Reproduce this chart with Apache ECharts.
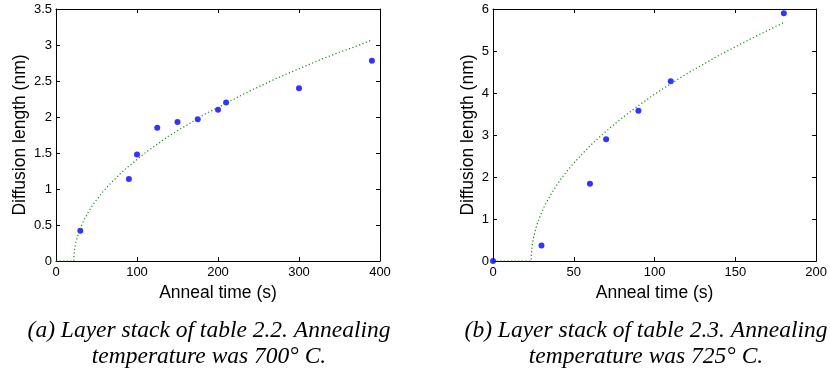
<!DOCTYPE html>
<html>
<head>
<meta charset="utf-8">
<script src="https://cdn.jsdelivr.net/npm/echarts@6/dist/echarts.min.js"></script>
<style>
html,body{margin:0;padding:0;background:#fff;}
#chart{width:830px;height:376px;}
</style>
</head>
<body>
<div id="chart"></div>
<script>
// ---- Panel (a): 700 C ----
const timeA = [30, 90, 100, 125, 150, 175, 200, 210, 300, 390];
const lengthA = [0.42, 1.14, 1.48, 1.85, 1.93, 1.97, 2.10, 2.20, 2.40, 2.78];
const fitTimeA = [0, 22, 22.3, 22.7, 23, 24, 25, 26, 28, 30, 33, 36, 40, 45, 50, 57, 65, 72, 80, 90, 100, 112, 125, 137, 150, 162, 175, 187, 200, 225, 250, 275, 300, 325, 350, 370, 390];
const fitLengthA = [0, 0, 0.09, 0.13, 0.16, 0.23, 0.28, 0.32, 0.39, 0.45, 0.53, 0.60, 0.68, 0.77, 0.85, 0.95, 1.05, 1.13, 1.22, 1.32, 1.41, 1.52, 1.62, 1.72, 1.81, 1.89, 1.98, 2.06, 2.13, 2.28, 2.42, 2.55, 2.67, 2.79, 2.90, 2.98, 3.07];
const xTicksA = [0, 100, 200, 300, 400];
const yTicksA = [0, 0.5, 1, 1.5, 2, 2.5, 3, 3.5];

// ---- Panel (b): 725 C ----
const timeB = [0, 30, 60, 70, 90, 110, 180];
const lengthB = [0, 0.37, 1.84, 2.90, 3.58, 4.28, 5.90];
const fitTimeB = [0, 23.6, 23.7, 24, 24.5, 25, 26, 27, 28, 30, 32, 35, 38, 42, 46, 50, 55, 60, 65, 70, 80, 90, 100, 110, 120, 130, 140, 150, 160, 170, 180];
const fitLengthB = [0, 0, 0.14, 0.29, 0.43, 0.54, 0.70, 0.84, 0.95, 1.15, 1.32, 1.53, 1.72, 1.95, 2.15, 2.33, 2.54, 2.74, 2.92, 3.09, 3.41, 3.70, 3.97, 4.22, 4.46, 4.68, 4.90, 5.10, 5.30, 5.49, 5.68];
const xTicksB = [0, 50, 100, 150, 200];
const yTicksB = [0, 1, 2, 3, 4, 5, 6];

const xTitle = 'Anneal time (s)';
const yTitle = 'Diffusion length (nm)';
const captionA = '(a) Layer stack of table 2.2. Annealing\ntemperature was 700° C.';
const captionB = '(b) Layer stack of table 2.3. Annealing\ntemperature was 725° C.';

const SANS = '"Liberation Sans", Arial, Helvetica, sans-serif';
const SERIF = '"Liberation Serif", "Times New Roman", serif';

function zip(a, b) { return a.map((v, i) => [v, b[i]]); }

function mkAxes(gridIndex, ticks, pos, isX, nameGap) {
  const min = ticks[0], max = ticks[ticks.length - 1];
  const interval = ticks[1] - ticks[0];
  const main = pos === 'bottom' || pos === 'left';
  return {
    type: 'value', gridIndex, position: pos, min, max, interval,
    name: main ? (isX ? xTitle : yTitle) : '',
    nameLocation: 'middle', nameGap,
    nameTextStyle: { fontFamily: SANS, fontSize: 17.5, color: '#000' },
    axisLine: { show: true, onZero: false, lineStyle: { color: '#000', width: 1 } },
    axisTick: { show: true, inside: true, length: 4, lineStyle: { color: '#000', width: 1 } },
    axisLabel: { show: main, fontFamily: SANS, fontSize: 13, color: '#000', margin: isX ? 5 : 4 },
    splitLine: { show: false }
  };
}

const fitStyle = { color: '#1a8a1a', width: 1.2, type: [1.2, 2.4] };

const option = {
  animation: false,
  backgroundColor: '#fff',
  grid: [
    { left: 56, top: 9, width: 324, height: 252 },
    { left: 493, top: 9, width: 324, height: 252 }
  ],
  xAxis: [
    mkAxes(0, xTicksA, 'bottom', true, 18),
    mkAxes(0, xTicksA, 'top', true, 0),
    mkAxes(1, xTicksB, 'bottom', true, 18),
    mkAxes(1, xTicksB, 'top', true, 0)
  ],
  yAxis: [
    mkAxes(0, yTicksA, 'left', false, 27),
    mkAxes(0, yTicksA, 'right', false, 0),
    mkAxes(1, yTicksB, 'left', false, 16),
    mkAxes(1, yTicksB, 'right', false, 0)
  ],
  series: [
    {
      type: 'line', xAxisIndex: 0, yAxisIndex: 0,
      data: zip(fitTimeA, fitLengthA), showSymbol: false, smooth: false,
      lineStyle: fitStyle, silent: true
    },
    {
      type: 'scatter', xAxisIndex: 0, yAxisIndex: 0,
      data: zip(timeA, lengthA), symbol: 'circle', symbolSize: 6,
      itemStyle: { color: '#0000ff' }
    },
    {
      type: 'line', xAxisIndex: 2, yAxisIndex: 2,
      data: zip(fitTimeB, fitLengthB), showSymbol: false, smooth: false,
      lineStyle: fitStyle, silent: true
    },
    {
      type: 'scatter', xAxisIndex: 2, yAxisIndex: 2,
      data: zip(timeB, lengthB), symbol: 'circle', symbolSize: 6,
      itemStyle: { color: '#0000ff' }, clip: false
    }
  ],
  graphic: [
    {
      type: 'text',
      x: 209, y: 344,
      style: {
        text: captionA, textAlign: 'center', textVerticalAlign: 'middle',
        font: 'italic 23.5px ' + SERIF, lineHeight: 26, fill: '#000'
      }
    },
    {
      type: 'text',
      x: 646, y: 344,
      style: {
        text: captionB, textAlign: 'center', textVerticalAlign: 'middle',
        font: 'italic 23.5px ' + SERIF, lineHeight: 26, fill: '#000'
      }
    }
  ]
};

const chart = echarts.init(document.getElementById('chart'), null, { renderer: 'canvas' });
chart.setOption(option);
</script>
</body>
</html>
